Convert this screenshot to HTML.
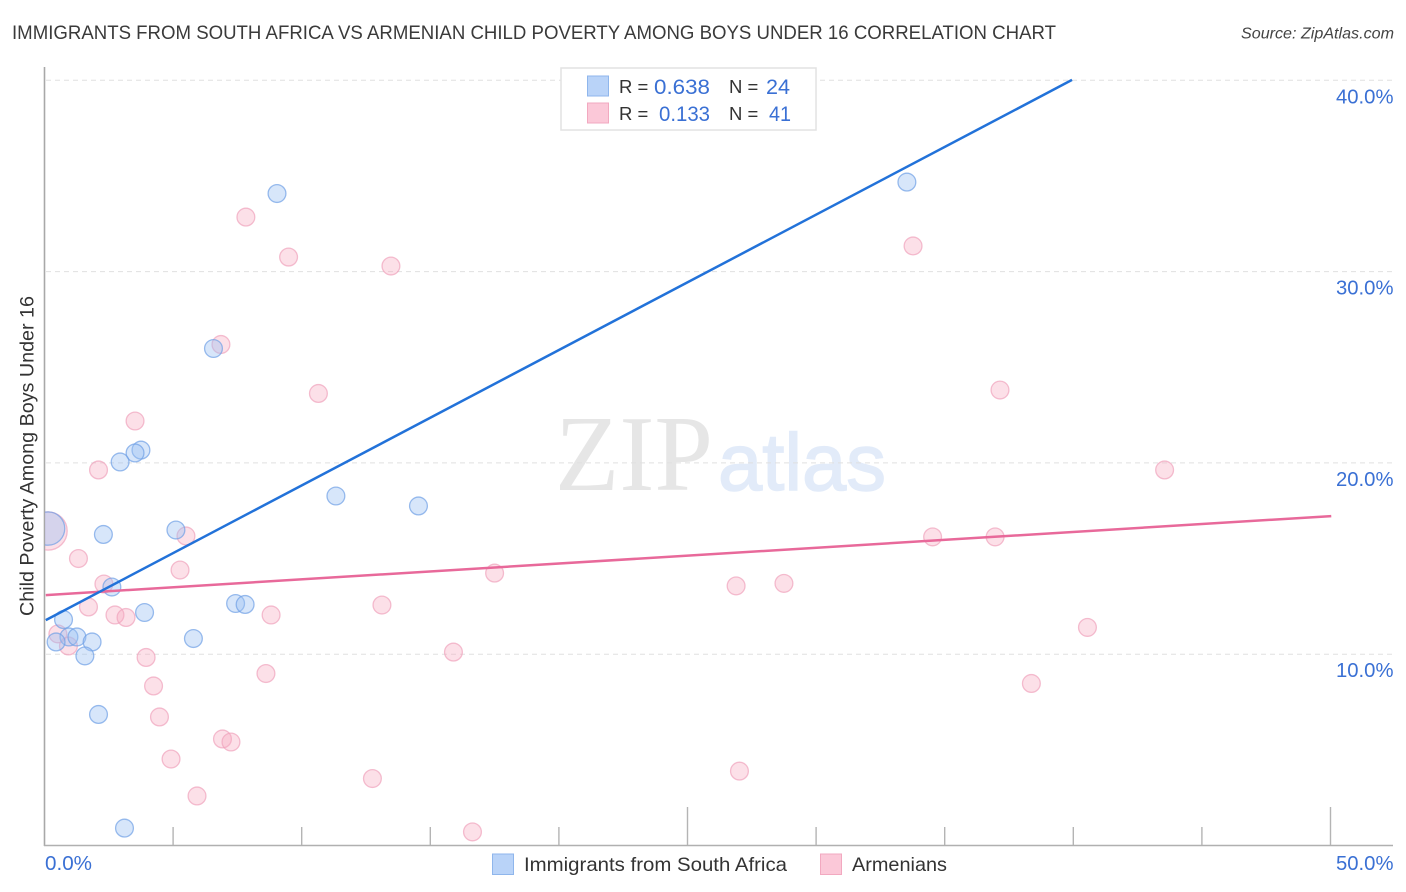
<!DOCTYPE html>
<html lang="en">
<head>
<meta charset="utf-8">
<title>Immigrants from South Africa vs Armenian Child Poverty Among Boys Under 16</title>
<style>
html,body{margin:0;padding:0;background:#fff;width:1406px;height:892px;overflow:hidden}
svg{display:block}
text{font-family:"Liberation Sans",sans-serif}
</style>
</head>
<body>
<svg id="chart" xmlns="http://www.w3.org/2000/svg" width="1406" height="892" viewBox="0 0 1406 892">
  <defs><clipPath id="plot-clip"><rect x="45" y="60" width="1350" height="785"/></clipPath></defs>
  <text x="12" y="39" font-size="19.5" fill="#3a3a3a" textLength="1044" lengthAdjust="spacingAndGlyphs">IMMIGRANTS FROM SOUTH AFRICA VS ARMENIAN CHILD POVERTY AMONG BOYS UNDER 16 CORRELATION CHART</text>
  <text x="1241" y="38.5" font-size="16" font-style="italic" fill="#444" textLength="153" lengthAdjust="spacingAndGlyphs">Source: ZipAtlas.com</text>

  <g>
    <text x="555" y="490" font-size="108" fill="#e6e6e6" style="font-family:'Liberation Serif',serif" textLength="158" lengthAdjust="spacingAndGlyphs">ZIP</text>
    <text x="718" y="490" font-size="81" fill="#e2ebf9" stroke="#e2ebf9" stroke-width="1.5" textLength="168" lengthAdjust="spacingAndGlyphs">atlas</text>
  </g>

  <g id="grid-layer"></g>
  <g id="axis-layer"></g>
  <g id="pink-layer" clip-path="url(#plot-clip)"></g>
  <g id="blue-layer" clip-path="url(#plot-clip)"></g>
  <g id="line-layer"></g>

  <text transform="translate(33.5,616) rotate(-90)" font-size="19" fill="#333" textLength="320" lengthAdjust="spacingAndGlyphs">Child Poverty Among Boys Under 16</text>

  <g>
    <rect x="561" y="68" width="255" height="62" fill="#fff" stroke="#e2e2e2" stroke-width="1.5"/>
    <rect x="587.5" y="76" width="21" height="20" fill="#b9d3f8" stroke="#8fb6ec" stroke-width="1"/>
    <rect x="587.5" y="103" width="21" height="20" fill="#fbc8d8" stroke="#f2a9c0" stroke-width="1"/>
    <text x="619" y="93" font-size="18.5" fill="#333">R =</text>
    <text x="654" y="94" font-size="21" fill="#3a70d4" textLength="56" lengthAdjust="spacingAndGlyphs">0.638</text>
    <text x="729" y="93" font-size="18.5" fill="#333">N =</text>
    <text x="766" y="94" font-size="21" fill="#3a70d4" textLength="24" lengthAdjust="spacingAndGlyphs">24</text>
    <text x="619" y="120" font-size="18.5" fill="#333">R =</text>
    <text x="659" y="121" font-size="21" fill="#3a70d4" textLength="51" lengthAdjust="spacingAndGlyphs">0.133</text>
    <text x="729" y="120" font-size="18.5" fill="#333">N =</text>
    <text x="769" y="121" font-size="21" fill="#3a70d4" textLength="22" lengthAdjust="spacingAndGlyphs">41</text>
  </g>

  <g>
    <rect x="492.5" y="854" width="21" height="20.5" fill="#b9d3f8" stroke="#8fb6ec" stroke-width="1"/>
    <text x="524" y="871" font-size="19.5" fill="#333" textLength="263" lengthAdjust="spacingAndGlyphs">Immigrants from South Africa</text>
    <rect x="820.5" y="854" width="21" height="20.5" fill="#fbc8d8" stroke="#f2a9c0" stroke-width="1"/>
    <text x="852" y="871" font-size="19.5" fill="#333" textLength="95" lengthAdjust="spacingAndGlyphs">Armenians</text>
  </g>
</svg>
<script>
var yTickValues = [10, 20, 30, 40];
var yTickLabels = ["10.0%", "20.0%", "30.0%", "40.0%"];
var xTickValues = [0, 5, 10, 15, 20, 25, 30, 35, 40, 45, 50];
var xEndValues = [0, 50];
var xEndLabels = ["0.0%", "50.0%"];

var blueX = [9.04, 33.53, 6.57, 3.75, 3.52, 2.94, 2.29, 5.11, 11.33, 14.54, 2.62, 3.89, 7.43, 7.80, 5.79, 0.74, 0.95, 1.26, 0.45, 1.85, 1.57, 2.10, 3.11, 0.14];
var blueY = [34.08, 34.68, 25.98, 20.67, 20.52, 20.05, 16.26, 16.49, 18.27, 17.75, 13.51, 12.18, 12.65, 12.60, 10.82, 11.81, 10.90, 10.90, 10.64, 10.64, 9.91, 6.85, 0.91, 16.57];
var blueWeight = [1, 1, 1, 1, 1, 1, 1, 1, 1, 1, 1, 1, 1, 1, 1, 1, 1, 1, 1, 1, 1, 1, 1, 3.5];

var pinkX = [7.83, 9.49, 13.47, 33.77, 6.86, 10.65, 37.15, 3.52, 2.10, 43.55, 5.50, 1.32, 34.53, 36.96, 5.27, 17.50, 26.89, 28.75, 2.31, 1.71, 13.12, 2.74, 3.17, 8.81, 40.55, 0.52, 0.93, 3.95, 15.90, 8.61, 4.24, 38.37, 4.47, 6.92, 7.25, 4.92, 27.02, 12.75, 5.93, 16.64, 0.14];
var pinkY = [32.85, 30.76, 30.29, 31.34, 26.19, 23.63, 23.81, 22.19, 19.63, 19.63, 16.18, 15.00, 16.13, 16.13, 14.40, 14.24, 13.57, 13.70, 13.67, 12.47, 12.57, 12.05, 11.92, 12.05, 11.40, 11.06, 10.43, 9.83, 10.11, 8.99, 8.34, 8.47, 6.72, 5.57, 5.41, 4.52, 3.89, 3.50, 2.59, 0.71, 16.44];
var pinkWeight = [1, 1, 1, 1, 1, 1, 1, 1, 1, 1, 1, 1, 1, 1, 1, 1, 1, 1, 1, 1, 1, 1, 1, 1, 1, 1, 1, 1, 1, 1, 1, 1, 1, 1, 1, 1, 1, 1, 1, 1, 4.6];

var blueTrendX = [0.05, 39.95];
var blueTrendY = [11.78, 40.02];
var pinkTrendX = [0.05, 50.03];
var pinkTrendY = [13.09, 17.22];

var NS = "http://www.w3.org/2000/svg";
function xScale(v) { return 44.5 + v * 25.72; }
function yScale(v) { return 845.5 - v * 19.13; }
function radius(w) { return 8.9 * Math.sqrt(w); }
function make(tag, attrs, parent) {
  var el = document.createElementNS(NS, tag);
  for (var k in attrs) el.setAttribute(k, attrs[k]);
  parent.appendChild(el);
  return el;
}

var gridLayer = document.getElementById("grid-layer");
var axisLayer = document.getElementById("axis-layer");
var blueLayer = document.getElementById("blue-layer");
var pinkLayer = document.getElementById("pink-layer");
var lineLayer = document.getElementById("line-layer");

yTickValues.forEach(function (v, i) {
  var gl = make("line", {x1: 46, x2: 1393, y1: yScale(v), y2: yScale(v), stroke: "#e0e0e0", "stroke-width": 1, "stroke-dasharray": "5 4"}, gridLayer);
  
  
  var t = make("text", {x: 1393.5, y: yScale(v) + 23, "font-size": 20, fill: "#3a70d4", "text-anchor": "end", textLength: 57.5, lengthAdjust: "spacingAndGlyphs"}, axisLayer);
  t.textContent = yTickLabels[i];
  
  
});

var yAxis = make("line", {x1: 44.5, x2: 44.5, y1: 67, y2: 846, stroke: "#a8a8a8", "stroke-width": 1.6}, axisLayer);


var xAxis = make("line", {x1: 44, x2: 1393, y1: 845.5, y2: 845.5, stroke: "#b0b0b0", "stroke-width": 1.6}, axisLayer);



xTickValues.forEach(function (v) {
  if (v === 0) return;
  var tall = (v === 25 || v === 50);
  var tk = make("line", {x1: xScale(v), x2: xScale(v), y1: tall ? 807 : 827, y2: 845, stroke: "#b4b4b4", "stroke-width": 1.4}, axisLayer);
  
  
});

xEndValues.forEach(function (v, i) {
  var t = make("text", {x: i === 0 ? xScale(v) + 0.5 : 1393.5, y: 870, "font-size": 20, fill: "#3a70d4", "text-anchor": i === 0 ? "start" : "end", textLength: i === 0 ? 47 : 57.5, lengthAdjust: "spacingAndGlyphs"}, axisLayer);
  t.textContent = xEndLabels[i];
  
  
});

pinkX.forEach(function (v, i) {
  var c = make("circle", {cx: xScale(v), cy: yScale(pinkY[i]), r: radius(pinkWeight[i]), fill: "#f6a8c0", "fill-opacity": 0.36, stroke: "#f0a3bc", "stroke-opacity": 0.7, "stroke-width": 1.3}, pinkLayer);
  
  
});

blueX.forEach(function (v, i) {
  var c = make("circle", {cx: xScale(v), cy: yScale(blueY[i]), r: radius(blueWeight[i]), fill: "#9cc0f2", "fill-opacity": 0.4, stroke: "#6f9fe6", "stroke-opacity": 0.7, "stroke-width": 1.3}, blueLayer);
  
  
});

var pinkTrend = make("line", {x1: xScale(pinkTrendX[0]), y1: yScale(pinkTrendY[0]), x2: xScale(pinkTrendX[1]), y2: yScale(pinkTrendY[1]), stroke: "#e8699a", "stroke-width": 2.5}, lineLayer);


var blueTrend = make("line", {x1: xScale(blueTrendX[0]), y1: yScale(blueTrendY[0]), x2: xScale(blueTrendX[1]), y2: yScale(blueTrendY[1]), stroke: "#2272d9", "stroke-width": 2.5}, lineLayer);


</script>
</body>
</html>
